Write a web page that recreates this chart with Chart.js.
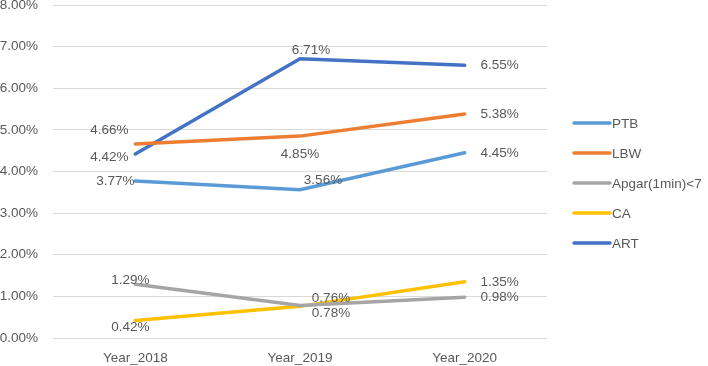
<!DOCTYPE html>
<html>
<head>
<meta charset="utf-8">
<script src="https://cdn.jsdelivr.net/npm/chart.js@4.4.1/dist/chart.umd.min.js"></script>
<style>
  html, body { margin: 0; padding: 0; background: #fff; }
  #wrap { width: 708px; height: 366px; position: relative; }
</style>
</head>
<body>
<div id="wrap"><canvas id="rateChart"></canvas></div>
<script>
// Categories and series values (percent)
const years = ['Year_2018', 'Year_2019', 'Year_2020'];
const ptb = [3.77, 3.56, 4.45];
const lbw = [4.66, 4.85, 5.38];
const apgar = [1.29, 0.78, 0.98];
const ca = [0.42, 0.76, 1.35];
const art = [4.42, 6.71, 6.55];
const yTicks = [0, 1, 2, 3, 4, 5, 6, 7, 8];

// Where each value label sits relative to its point (dx, dy in px)
const labelOffsets = {
  PTB: [[-20, 0], [23, -10], [35, 1]],
  LBW: [[-26, -14], [0, 18], [35, 0]],
  'Apgar(1min)<7': [[-5, -4], [31, 8], [35, 0]],
  CA: [[-5, 7], [31, -8], [35, 0]],
  ART: [[-26, 3], [11, -8], [35, 0]]
};

const textColor = '#595959';
const family = '"Liberation Sans", Arial, sans-serif';
const font = '13.5px ' + family;

const valueLabels = {
  id: 'valueLabels',
  afterDatasetsDraw(chart) {
    const ctx = chart.ctx;
    ctx.save();
    ctx.font = font;
    ctx.fillStyle = textColor;
    ctx.textAlign = 'center';
    ctx.textBaseline = 'middle';
    chart.data.datasets.forEach((ds, i) => {
      const meta = chart.getDatasetMeta(i);
      const offs = labelOffsets[ds.label];
      meta.data.forEach((pt, j) => {
        const o = offs[j];
        ctx.fillText(ds.data[j].toFixed(2) + '%', pt.x + o[0], pt.y + o[1]);
      });
    });
    ctx.restore();
  }
};

const sideLegend = {
  id: 'sideLegend',
  afterDraw(chart) {
    const ctx = chart.ctx;
    ctx.save();
    ctx.font = font;
    ctx.textAlign = 'left';
    ctx.textBaseline = 'middle';
    chart.data.datasets.forEach((ds, i) => {
      const y = 123 + i * 30;
      ctx.strokeStyle = ds.borderColor;
      ctx.lineWidth = 3.5;
      ctx.lineCap = 'round';
      ctx.beginPath();
      ctx.moveTo(574, y);
      ctx.lineTo(610, y);
      ctx.stroke();
      ctx.fillStyle = textColor;
      ctx.fillText(ds.label, 612, y + 1);
    });
    ctx.restore();
  }
};

function line(label, data, color) {
  return {
    label: label,
    data: data,
    borderColor: color,
    backgroundColor: color,
    borderWidth: 3.5,
    borderCapStyle: 'round',
    pointRadius: 0,
    tension: 0,
    fill: false
  };
}

new Chart(document.getElementById('rateChart'), {
  type: 'line',
  data: {
    labels: years,
    datasets: [
      line('PTB', ptb, '#5B9BD5'),
      line('LBW', lbw, '#ED7D31'),
      line('Apgar(1min)<7', apgar, '#A5A5A5'),
      line('CA', ca, '#FFC000'),
      line('ART', art, '#4472C4')
    ]
  },
  options: {
    responsive: true,
    maintainAspectRatio: false,
    animation: false,
    layout: { padding: { top: 5, right: 161, bottom: 0, left: 0 } },
    plugins: {
      legend: { display: false },
      tooltip: { enabled: false }
    },
    scales: {
      x: {
        offset: true,
        grid: { display: false, drawTicks: false },
        border: { display: false },
        ticks: { color: textColor, font: { family: family, size: 13.5 }, padding: 12 },
        afterFit(scale) {
          scale.height = 28;
          scale.paddingLeft = 0;
          scale.paddingRight = 0;
        }
      },
      y: {
        min: 0,
        max: 8,
        afterBuildTicks(scale) { scale.ticks = yTicks.map(v => ({ value: v })); },
        grid: { color: '#D9D9D9', lineWidth: 1, drawTicks: false },
        border: { display: false },
        ticks: {
          color: textColor,
          font: { family: family, size: 13.5 },
          padding: 15,
          callback: v => v.toFixed(2) + '%'
        },
        afterFit(scale) {
          scale.width = 53;
          scale.paddingTop = 0;
          scale.paddingBottom = 0;
        }
      }
    }
  },
  plugins: [valueLabels, sideLegend]
});
</script>
</body>
</html>
